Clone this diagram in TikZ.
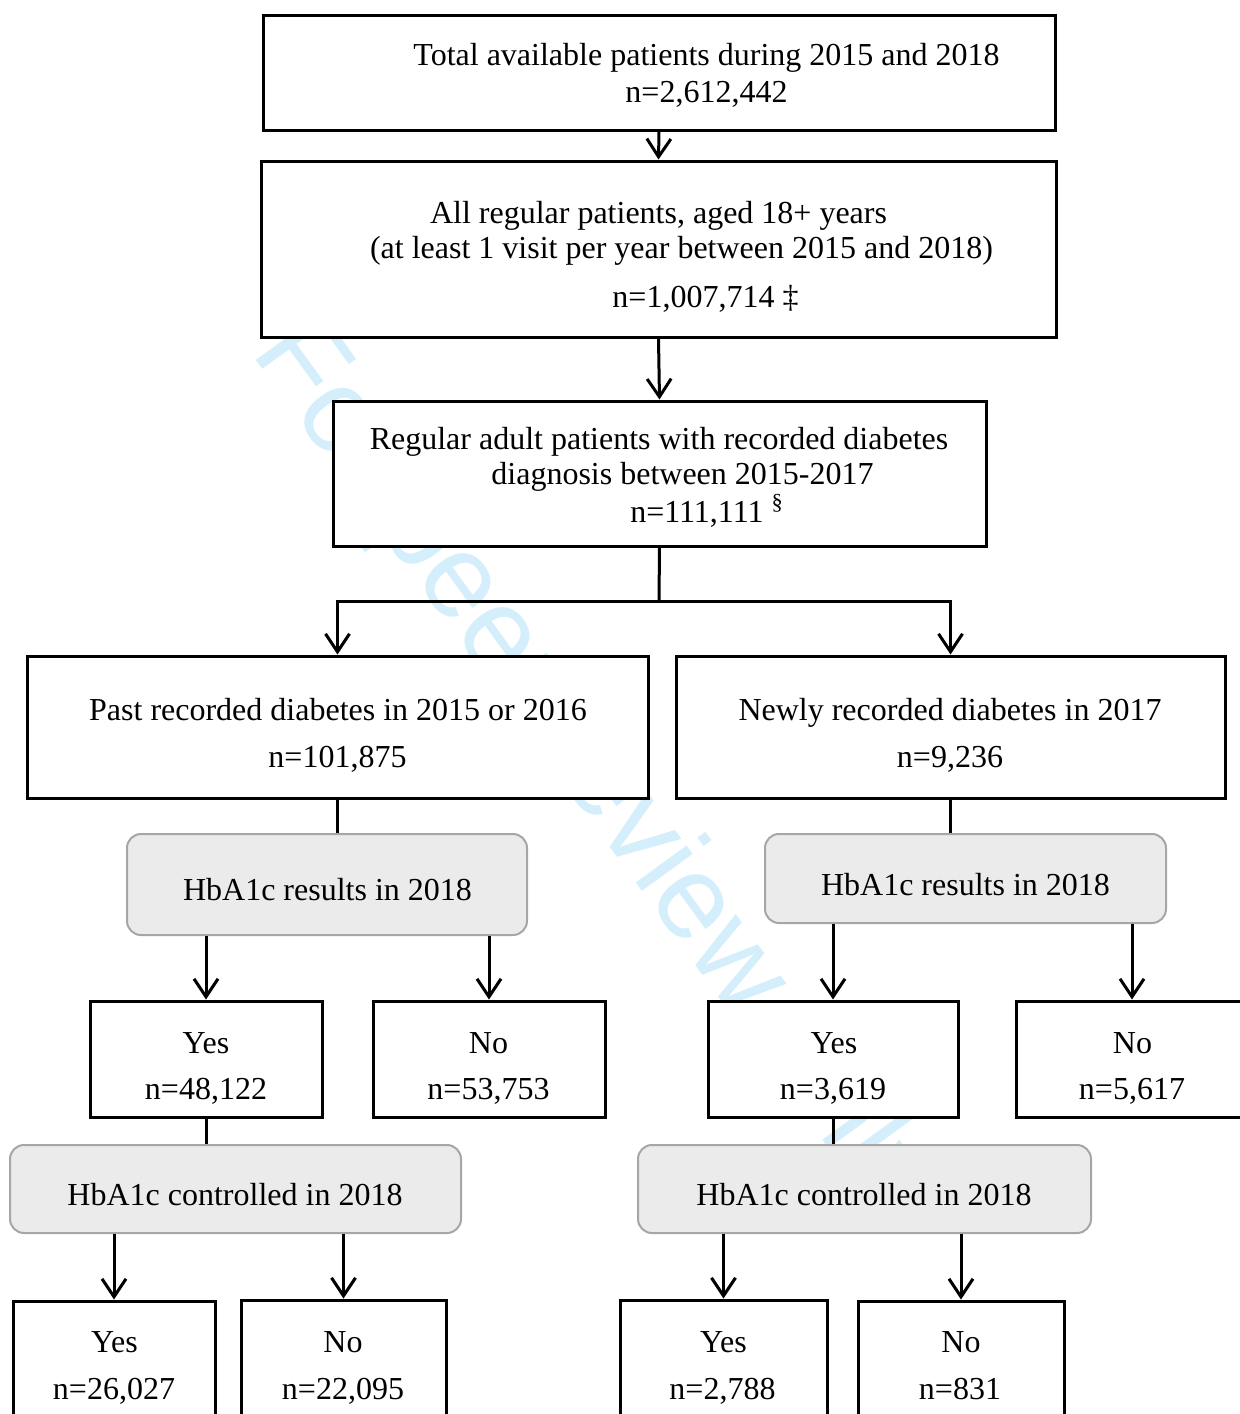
\documentclass[tikz,border=0pt]{standalone}
\usepackage{fontspec}
\setmainfont{Liberation Serif}
\newfontfamily\wmfont{Liberation Sans}
\usetikzlibrary{arrows.meta}
\definecolor{wmblue}{RGB}{212,238,251}
\definecolor{grayfill}{RGB}{235,235,235}
\definecolor{grayline}{RGB}{166,166,166}
\begin{document}
\begin{tikzpicture}[x=0.5pt,y=-0.5pt,
  box/.style={draw=black, line width=1.5pt, fill=white, rectangle, inner sep=0pt},
  gbox/.style={draw=grayline, line width=1pt, fill=grayfill, rounded corners=7pt, rectangle, inner sep=0pt},
  txt/.style={anchor=base, inner sep=0pt, font=\fontsize{16pt}{19pt}\selectfont},
  con/.style={line width=1.5pt},
  arr/.style={line width=1.5pt, -{Straight Barb[length=9pt,width=12pt]}}]
\useasboundingbox (0,0) rectangle (1239,1414);
% watermark
\node[anchor=base west, rotate=-54, inner sep=0pt, text=wmblue,
      font=\wmfont\fontsize{59.5pt}{60pt}\selectfont] (wm) at (250,352) {For peer review only};
% boxes
\node[box, minimum width=396pt, minimum height=57.5pt] (b1) at (659,72.5) {};
\node[box, minimum width=397.5pt, minimum height=88pt] (b2) at (658.5,249) {};
\node[box, minimum width=326.5pt, minimum height=72.5pt] (b3) at (659.5,473.5) {};
\node[box, minimum width=310.5pt, minimum height=71pt] (b4) at (337.5,727) {};
\node[box, minimum width=274.5pt, minimum height=71pt] (b5) at (950.5,727) {};
\node[gbox, minimum width=200pt, minimum height=50.5pt] (gA) at (327,884.5) {};
\node[gbox, minimum width=200.5pt, minimum height=44.5pt] (gB) at (965.5,878.5) {};
\node[box, minimum width=116pt, minimum height=58pt] (yL) at (206,1059) {};
\node[box, minimum width=116pt, minimum height=58pt] (nL) at (489,1059) {};
\node[box, minimum width=125pt, minimum height=58pt] (yR) at (833,1059) {};
\node[box, minimum width=116pt, minimum height=58pt] (nR) at (1132,1059) {};
\node[gbox, minimum width=225.5pt, minimum height=44pt] (gC) at (235.5,1189) {};
\node[gbox, minimum width=226.5pt, minimum height=44pt] (gD) at (864.5,1189) {};
\node[box, minimum width=101pt, minimum height=65pt] (yLL) at (114,1366) {};
\node[box, minimum width=102.5pt, minimum height=65pt] (nLL) at (343.5,1365) {};
\node[box, minimum width=103.5pt, minimum height=65pt] (yRR) at (723.5,1365) {};
\node[box, minimum width=103pt, minimum height=65pt] (nRR) at (961,1366) {};
% texts
\node[txt] (t1a) at (706.5,65) {Total available patients during 2015 and 2018};
\node[txt] (t1b) at (706.5,102) {n=2,612,442};
\node[txt] (t2a) at (658.5,223) {All regular patients, aged 18+ years};
\node[txt] (t2b) at (681.5,258) {(at least 1 visit per year between 2015 and 2018)};
\node[txt] (t2c) at (705.5,307) {n=1,007,714 ‡};
\node[txt] (t3a) at (659,449) {Regular adult patients with recorded diabetes};
\node[txt] (t3b) at (682.5,484) {diagnosis between 2015-2017};
\node[txt] (t3c) at (707,522) {n=111,111 \textsuperscript{§}};
\node[txt] (t4a) at (338,720) {Past recorded diabetes in 2015 or 2016};
\node[txt] (t4b) at (337.5,767) {n=101,875};
\node[txt] (t5a) at (950,720) {Newly recorded diabetes in 2017};
\node[txt] (t5b) at (950,767) {n=9,236};
\node[txt] (tgA) at (327.5,900) {HbA1c results in 2018};
\node[txt] (tgB) at (965.5,895) {HbA1c results in 2018};
\node[txt] (tyLa) at (206,1053) {Yes};
\node[txt] (tyLb) at (206,1099) {n=48,122};
\node[txt] (tnLa) at (488.5,1053) {No};
\node[txt] (tnLb) at (488.5,1099) {n=53,753};
\node[txt] (tyRa) at (834,1053) {Yes};
\node[txt] (tyRb) at (833,1099) {n=3,619};
\node[txt] (tnRa) at (1132.5,1053) {No};
\node[txt] (tnRb) at (1132,1099) {n=5,617};
\node[txt] (tgC) at (235,1205) {HbA1c controlled in 2018};
\node[txt] (tgD) at (864,1205) {HbA1c controlled in 2018};
\node[txt] (tyLLa) at (114.5,1352) {Yes};
\node[txt] (tyLLb) at (114,1399) {n=26,027};
\node[txt] (tnLLa) at (343,1352) {No};
\node[txt] (tnLLb) at (343,1399) {n=22,095};
\node[txt] (tyRRa) at (723.5,1352) {Yes};
\node[txt] (tyRRb) at (722.5,1399) {n=2,788};
\node[txt] (tnRRa) at (961,1352) {No};
\node[txt] (tnRRb) at (960,1399) {n=831};
% connectors
\coordinate (split) at (659,601);
\draw[arr] (b1.south) -- (b2.north);
\draw[arr] (b2.south) -- (b3.north);
\draw[con] (b3.south) -- (split);
\draw[arr] (split) -| (b4.north);
\draw[arr] (split) -| (b5.north);
\draw[con] (b4.south) -- (b4.south |- gA.north);
\draw[con] (b5.south) -- (b5.south |- gB.north);
\draw[arr] (yL.north |- gA.south) -- (yL.north);
\draw[arr] (nL.north |- gA.south) -- (nL.north);
\draw[arr] (yR.north |- gB.south) -- (yR.north);
\draw[arr] (nR.north |- gB.south) -- (nR.north);
\draw[con] (yL.south) -- (yL.south |- gC.north);
\draw[con] (yR.south) -- (yR.south |- gD.north);
\draw[arr] (yLL.north |- gC.south) -- (yLL.north);
\draw[arr] (nLL.north |- gC.south) -- (nLL.north);
\draw[arr] (yRR.north |- gD.south) -- (yRR.north);
\draw[arr] (nRR.north |- gD.south) -- (nRR.north);
\end{tikzpicture}
\end{document}
